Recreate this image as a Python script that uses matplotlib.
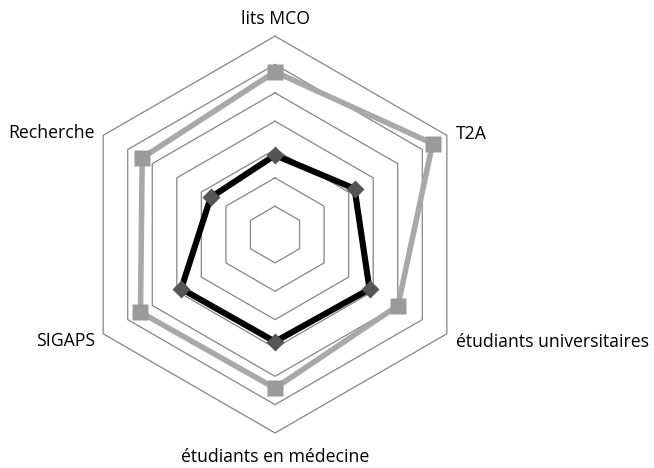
import numpy as np
import matplotlib
matplotlib.use("Agg")
import matplotlib.pyplot as plt

# --- données -------------------------------------------------------------
categories = ["lits MCO", "T2A", "étudiants universitaires",
              "étudiants en médecine", "SIGAPS", "Recherche"]
serie_grise = [5.74, 6.42, 5.01, 5.42, 5.48, 5.41]
serie_noire = [2.80, 3.24, 3.85, 3.78, 3.82, 2.62]
anneaux = [1, 2, 3, 4, 5, 6, 7]
# -------------------------------------------------------------------------

plt.rcParams["font.family"] = ["Open Sans", "DejaVu Sans"]

n = len(categories)
theta = np.linspace(0, 2 * np.pi, n, endpoint=False)
theta_c = np.append(theta, theta[0])

fig = plt.figure(figsize=(6.54, 4.68), dpi=100)
ax = fig.add_axes([0.117, 0.0748, 0.607, 0.848], projection="polar")
ax.set_theta_offset(np.pi / 2)
ax.set_theta_direction(-1)
ax.set_ylim(0, max(anneaux))
ax.grid(False)
ax.set_xticks([])
ax.set_yticks([])
ax.spines["polar"].set_visible(False)

# grille hexagonale
for k in anneaux:
    ax.plot(theta_c, [k] * (n + 1), color="#858585", lw=0.9, zorder=1,
            clip_on=False)

# série grise (carrés)
g = serie_grise + serie_grise[:1]
ax.plot(theta_c, g, color="#a8a8a8", lw=4.0, zorder=2, clip_on=False)
ax.plot(theta, serie_grise, ls="none", marker="s", ms=11.5,
        color="#9a9a9a", mec="none", zorder=3, clip_on=False)

# série noire (losanges)
b = serie_noire + serie_noire[:1]
ax.plot(theta_c, b, color="black", lw=4.4, zorder=4, clip_on=False)
ax.plot(theta, serie_noire, ls="none", marker="D", ms=9.5,
        color="#555555", mec="none", zorder=5, clip_on=False)

# étiquettes des axes
offsets = [(0, 17, "center"), (9, 1, "left"), (9, -8, "left"),
           (0, -24, "center"), (-8, -7, "right"), (-8, 2, "right")]
for t, lab, (dx, dy, ha) in zip(theta, categories, offsets):
    ax.annotate(lab, (t, max(anneaux)), xytext=(dx, dy),
                textcoords="offset pixels", ha=ha, va="center",
                fontsize=12.7, color="black", annotation_clip=False)

fig.savefig("out.png", dpi=100)
